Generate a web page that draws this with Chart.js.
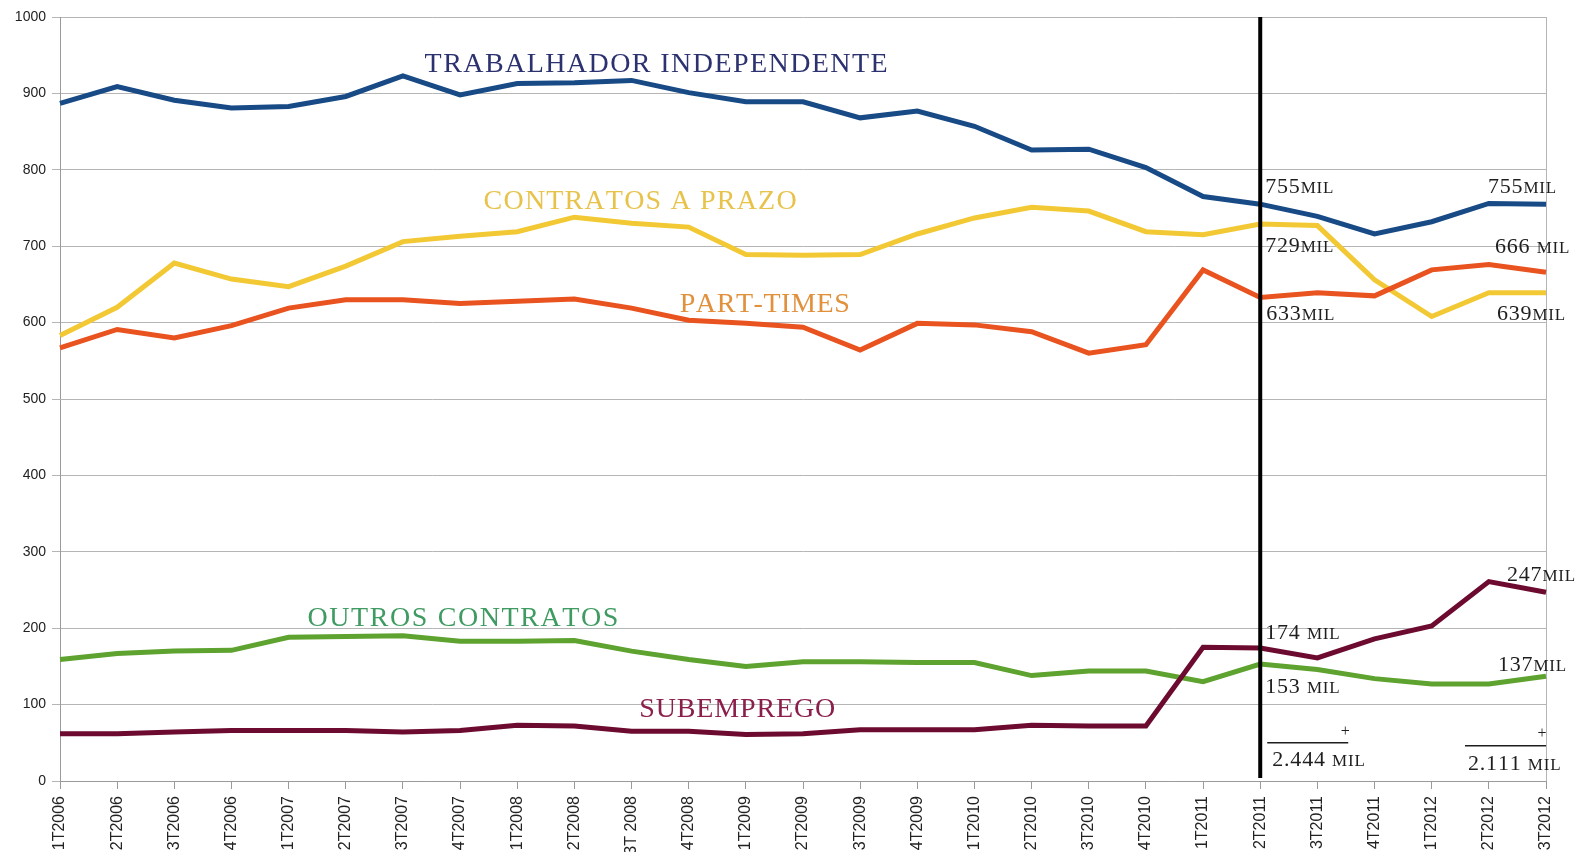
<!DOCTYPE html>
<html>
<head>
<meta charset="utf-8">
<script src="https://cdn.jsdelivr.net/npm/chart.js@4.4.1/dist/chart.umd.min.js"></script>
<style>
  body { margin: 0; background: #fff; }
  canvas { display: block; }
</style>
</head>
<body>
<canvas id="grafico" width="1587" height="852"></canvas>
<script>
const trimestres = ['1T2006', '2T2006', '3T2006', '4T2006', '1T2007', '2T2007', '3T2007', '4T2007',
    '1T2008', '2T2008', '3T 2008', '4T2008', '1T2009', '2T2009', '3T2009', '4T2009',
    '1T2010', '2T2010', '3T2010', '4T2010', '1T2011', '2T2011', '3T2011', '4T2011',
    '1T2012', '2T2012', '3T2012'];

const independente = [887, 909, 891, 881, 883, 896, 923, 898, 913, 914, 917, 901, 889, 889, 868, 877,
    857, 826, 827, 803, 765, 755, 739, 716, 732, 756, 755];
const contratosPrazo = [583, 620, 678, 657, 647, 674, 706, 713, 719, 738, 730, 725, 689, 688, 689, 716,
    737, 751, 746, 719, 715, 729, 727, 656, 608, 639, 639];
const partTimes = [567, 591, 580, 596, 619, 630, 630, 625, 628, 631, 619, 603, 599, 594, 564, 599,
    597, 588, 560, 571, 669, 633, 639, 635, 669, 676, 666];
const outrosContratos = [159, 167, 170, 171, 188, 189, 190, 183, 183, 184, 170, 159, 150, 156, 156, 155,
    155, 138, 144, 144, 130, 153, 146, 134, 127, 127, 137];
const subemprego = [62, 62, 64, 66, 66, 66, 64, 66, 73, 72, 65, 65, 61, 62, 67, 67,
    67, 73, 72, 72, 175, 174, 161, 186, 203, 261, 247];

const yTicks = [0, 100, 200, 300, 400, 500, 600, 700, 800, 900, 1000];
const marcoTrimestre = '2T2011';

// titulos das series (centro em indice de trimestre / valor, largura em px)
const titulos = [
    { texto: 'TRABALHADOR INDEPENDENTE', i: 10.43, v: 937, largura: 463, cor: '#2c3270' },
    { texto: 'CONTRATOS A PRAZO', i: 10.15, v: 758, largura: 313, cor: '#e8c34c' },
    { texto: 'PART-TIMES', i: 12.33, v: 624, largura: 170, cor: '#e1903c' },
    { texto: 'OUTROS CONTRATOS', i: 7.05, v: 212, largura: 311, cor: '#3f9b62' },
    { texto: 'SUBEMPREGO', i: 11.85, v: 94, largura: 196, cor: '#8b1f4c' }
];

// rotulos de valores (minusculas = versaletes)
const rotulos = [
    { texto: '755mil', i: 21, dx: 5, v: 769 },
    { texto: '755mil', i: 26, dx: -58, v: 769 },
    { texto: '729mil', i: 21, dx: 5, v: 693 },
    { texto: '666 mil', i: 26, dx: -51, v: 691 },
    { texto: '633mil', i: 21, dx: 6, v: 603 },
    { texto: '639mil', i: 26, dx: -49, v: 603 },
    { texto: '247mil', i: 26, dx: -39, v: 262 },
    { texto: '174 mil', i: 21, dx: 5, v: 186 },
    { texto: '137mil', i: 26, dx: -48, v: 144 },
    { texto: '153 mil', i: 21, dx: 5, v: 115 },
    { texto: '2.444 mil', i: 21, dx: 12, v: 19 },
    { texto: '2.111 mil', i: 26, dx: -78, v: 14 }
];
const somas = [
    { i: 21, x1: 7, x2: 88, v: 50, mais: 85, vMais: 65 },
    { i: 26, x1: -81, x2: 0, v: 46, mais: -4, vMais: 62 }
];

function desenharEspacado(ctx, texto, cx, cy, largura, tamanho, cor) {
    ctx.font = tamanho + 'px "Liberation Serif", "DejaVu Serif", serif';
    ctx.fillStyle = cor;
    ctx.textBaseline = 'middle';
    ctx.textAlign = 'left';
    const chars = texto.split('');
    const larguras = chars.map(c => ctx.measureText(c).width);
    const natural = larguras.reduce((a, b) => a + b, 0);
    const espaco = (largura - natural) / (chars.length - 1);
    let x = cx - largura / 2;
    chars.forEach((c, k) => {
        ctx.fillText(c, x, cy);
        x += larguras[k] + espaco;
    });
}

function desenharVersalete(ctx, texto, x, y) {
    ctx.fillStyle = '#1e1e1e';
    ctx.textBaseline = 'alphabetic';
    ctx.textAlign = 'left';
    for (const c of texto) {
        const pequeno = c !== c.toUpperCase();
        ctx.font = (pequeno ? 17 : 22) + 'px "Liberation Serif", "DejaVu Serif", serif';
        const ch = c.toUpperCase();
        ctx.fillText(ch, x, y);
        x += ctx.measureText(ch).width + 0.8;
    }
}

const anotacoes = {
    id: 'anotacoes',
    afterDatasetsDraw(chart) {
        const ctx = chart.ctx;
        const xs = chart.scales.x;
        const ys = chart.scales.y;
        const area = chart.chartArea;
        ctx.save();

        // linha vertical no 2T2011
        const xm = xs.getPixelForValue(trimestres.indexOf(marcoTrimestre));
        ctx.strokeStyle = '#000';
        ctx.lineWidth = 4;
        ctx.beginPath();
        ctx.moveTo(xm, area.top);
        ctx.lineTo(xm, area.bottom - 3);
        ctx.stroke();

        titulos.forEach(t => {
            desenharEspacado(ctx, t.texto, xs.getPixelForValue(t.i), ys.getPixelForValue(t.v), t.largura, 28, t.cor);
        });

        rotulos.forEach(r => {
            desenharVersalete(ctx, r.texto, xs.getPixelForValue(r.i) + r.dx, ys.getPixelForValue(r.v));
        });

        ctx.strokeStyle = '#1e1e1e';
        ctx.lineWidth = 1.5;
        somas.forEach(s => {
            const x0 = xs.getPixelForValue(s.i);
            const y = ys.getPixelForValue(s.v);
            ctx.beginPath();
            ctx.moveTo(x0 + s.x1, y);
            ctx.lineTo(x0 + s.x2, y);
            ctx.stroke();
            ctx.font = '16px "Liberation Serif", serif';
            ctx.fillStyle = '#1e1e1e';
            ctx.textAlign = 'center';
            ctx.textBaseline = 'middle';
            ctx.fillText('+', x0 + s.mais, ys.getPixelForValue(s.vMais));
        });
        ctx.restore();
    }
};

function serie(dados, cor) {
    return {
        data: dados,
        borderColor: cor,
        borderWidth: 5,
        pointRadius: 0,
        tension: 0,
        fill: false
    };
}

function desenharGrafico() {
    const ctx = document.getElementById('grafico').getContext('2d');
    const ultimo = trimestres.length - 1;
    new Chart(ctx, {
        type: 'line',
        data: {
            labels: trimestres,
            datasets: [
                serie(subemprego, '#6c0b2f'),
                serie(outrosContratos, '#5ea22f'),
                serie(partTimes, '#e9531f'),
                serie(contratosPrazo, '#f2c934'),
                serie(independente, '#184a86')
            ]
        },
        options: {
            responsive: false,
            animation: false,
            layout: { padding: { top: 17, right: 41, left: 0, bottom: 0 } },
            plugins: {
                legend: { display: false },
                tooltip: { enabled: false }
            },
            scales: {
                x: {
                    afterFit: s => { s.height = 71; },
                    grid: {
                        color: c => c.index === ultimo ? '#b5b5b5' : 'rgba(0,0,0,0)',
                        tickColor: '#9a9a9a',
                        tickLength: 8
                    },
                    border: { color: '#9a9a9a' },
                    ticks: {
                        autoSkip: false,
                        minRotation: 90,
                        maxRotation: 90,
                        padding: 7,
                        color: '#222',
                        font: { family: '"Liberation Sans", Arial, sans-serif', size: 16 }
                    }
                },
                y: {
                    min: 0,
                    max: 1000,
                    afterFit: s => { s.width = 60; },
                    afterBuildTicks: s => { s.ticks = yTicks.map(v => ({ value: v })); },
                    grid: { color: '#b5b5b5', tickLength: 8 },
                    border: { color: '#9a9a9a' },
                    ticks: {
                        padding: 6,
                        color: '#222',
                        callback: v => String(v),
                        font: { family: '"Liberation Sans", Arial, sans-serif', size: 14 }
                    }
                }
            }
        },
        plugins: [anotacoes]
    });
}

desenharGrafico();
</script>
</body>
</html>
